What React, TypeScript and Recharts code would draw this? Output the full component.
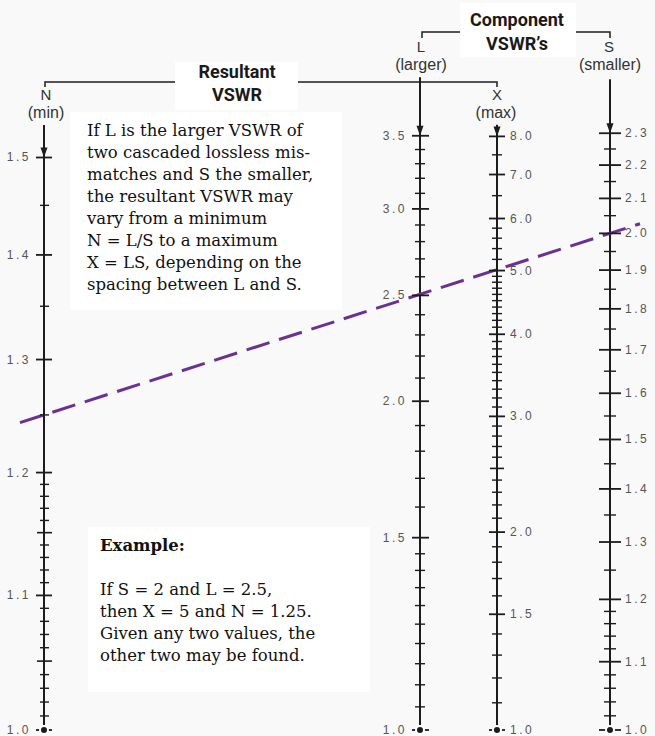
import React from "react";
import {
  ComposedChart,
  Line,
  Scatter,
  XAxis,
  YAxis,
  ReferenceLine,
} from "recharts";

const WIDTH = 655;
const HEIGHT = 736;

// value sitting on the top edge of the plot for each scale (1.0 is on the bottom edge)
const N_TOP = 1.677;
const L_TOP = 4.66;
const X_TOP = 12.9;
const S_TOP = 2.77;

// horizontal position of the four scales
const N_AT = 44;
const L_AT = 420;
const X_AT = 497;
const S_AT = 610;

const nLabeled = [1.0, 1.1, 1.2, 1.3, 1.4, 1.5];
const nMid = [1.05, 1.15];
const nMinor = [
  1.01, 1.02, 1.03, 1.04, 1.06, 1.07, 1.08, 1.09, 1.11, 1.12, 1.13, 1.14,
  1.16, 1.17, 1.18, 1.19, 1.25, 1.35, 1.45,
];

const lLabeled = [1.0, 1.5, 2.0, 2.5, 3.0, 3.5];
const lMinor = [
  1.05, 1.1, 1.15, 1.2, 1.25, 1.3, 1.35, 1.4, 1.45, 1.6, 1.7, 1.8, 1.9, 2.1,
  2.2, 2.3, 2.4, 2.6, 2.7, 2.8, 2.9, 3.1, 3.2, 3.3, 3.4,
];

const xLabeled = [1.0, 1.5, 2.0, 3.0, 4.0, 5.0, 6.0, 7.0, 8.0];
const xMid = [2.5];
const xMinor = [
  1.1, 1.2, 1.3, 1.4, 1.6, 1.7, 1.8, 1.9, 2.1, 2.2, 2.3, 2.4, 2.6, 2.7, 2.8,
  2.9, 3.1, 3.2, 3.3, 3.4, 3.5, 3.6, 3.7, 3.8, 3.9, 4.1, 4.2, 4.3, 4.4, 4.5,
  4.6, 4.7, 4.8, 4.9, 5.2, 5.4, 5.6, 5.8, 6.5, 7.5,
];

const sLabeled = [
  1.0, 1.1, 1.2, 1.3, 1.4, 1.5, 1.6, 1.7, 1.8, 1.9, 2.0, 2.1, 2.2, 2.3,
];
const sMinor = [
  1.02, 1.04, 1.06, 1.08, 1.12, 1.14, 1.16, 1.18, 1.25, 1.35, 1.45, 1.55,
  1.65, 1.75, 1.85, 1.95, 2.05, 2.15, 2.25,
];

// where each scale line begins at the top (in its own units)
const nLineTop = 1.535;
const lLineTop = 3.96;
const xLineTop = 8.33;
const sLineTop = 2.48;

// worked example: S = 2, L = 2.5 -> X = 5, N = 1.25
const exampleN = 1.25;
const exampleS = 2.0;
const dashFrom = 20;
const dashTo = 640;

const introLines = [
  "If L is the larger VSWR of",
  "two cascaded lossless mis-",
  "matches and S the smaller,",
  "the resultant VSWR may",
  "vary from a minimum",
  "N = L/S to a maximum",
  "X = LS, depending on the",
  "spacing between L and S.",
];
const exampleLines = [
  "If S = 2 and L = 2.5,",
  "then X = 5 and N = 1.25.",
  "Given any two values, the",
  "other two may be found.",
];

const pts = (at: number, vals: number[]) => vals.map((v) => ({ x: at, v }));

// same height on the N scale for a value read on another scale
const asN = (v: number, top: number) =>
  Math.pow(10, (Math.log10(v) * Math.log10(N_TOP)) / Math.log10(top));

const h0 = Math.log10(exampleN);
const h1 = Math.log10(asN(exampleS, S_TOP));
const nAtX = (x: number) =>
  Math.pow(10, h0 + ((x - N_AT) / (S_AT - N_AT)) * (h1 - h0));

const INK = "#1c1c1c";
const labelFont = "'Liberation Sans', Arial, sans-serif";

const tick =
  (left: number, right: number, w: number, side?: "left" | "right", gap = 0) =>
  (p: any) => {
    const { cx, cy, payload } = p;
    return (
      <g>
        <line
          x1={cx - left}
          x2={cx + right}
          y1={cy}
          y2={cy}
          stroke={INK}
          strokeWidth={w}
        />
        {side && (
          <text
            x={side === "left" ? cx - gap : cx + gap}
            y={cy}
            textAnchor={side === "left" ? "end" : "start"}
            dominantBaseline="central"
            fontSize={12}
            letterSpacing={2.5}
            fill="#555"
            fontFamily={labelFont}
          >
            {payload.v.toFixed(1)}
          </text>
        )}
      </g>
    );
  };

const arrow = (p: any) => {
  const { cx, cy } = p;
  return (
    <path
      d={`M${cx - 3.5},${cy - 10} L${cx + 3.5},${cy - 10} L${cx},${cy} Z`}
      fill={INK}
    />
  );
};

const Overlay = () => (
  <svg
    width={WIDTH}
    height={HEIGHT}
    style={{ position: "absolute", left: 0, top: 0 }}
  >
    <rect x={70} y={112} width={272} height={198} fill="#fff" />
    <rect x={88} y={527} width={282} height={165} fill="#fff" />

    <path d="M45,87 V82 H497 V87" fill="none" stroke={INK} strokeWidth={1.5} />
    <path d="M422,38 V32 H610 V38" fill="none" stroke={INK} strokeWidth={1.5} />
    <rect x={175} y={62} width={123} height={48} fill="#fff" />
    <rect x={460} y={3} width={116} height={54} fill="#fff" />

    <g
      fontFamily="Roboto, sans-serif"
      fontWeight="bold"
      fontSize={18}
      fill="#1a1a1a"
      textAnchor="middle"
    >
      <text x={237} y={78}>Resultant</text>
      <text x={237} y={101}>VSWR</text>
      <text x={517} y={26}>Component</text>
      <text x={517} y={50}>VSWR’s</text>
    </g>

    <g fontFamily={labelFont} fill="#333" textAnchor="middle">
      <text x={46} y={100} fontSize={15}>N</text>
      <text x={46} y={118} fontSize={16}>(min)</text>
      <text x={421} y={52} fontSize={15}>L</text>
      <text x={421} y={70} fontSize={16}>(larger)</text>
      <text x={497} y={100} fontSize={15}>X</text>
      <text x={496} y={118} fontSize={16}>(max)</text>
      <text x={609} y={52} fontSize={15}>S</text>
      <text x={610} y={70} fontSize={16}>(smaller)</text>
    </g>

    <g fontFamily="'DejaVu Serif', serif" fontSize={16.5} fill="#111">
      {introLines.map((t, i) => (
        <text key={t} x={87} y={136 + i * 22}>
          {t}
        </text>
      ))}
      <text x={100} y={551} fontWeight="bold">
        Example:
      </text>
      {exampleLines.map((t, i) => (
        <text key={t} x={100} y={595 + i * 22}>
          {t}
        </text>
      ))}
    </g>
  </svg>
);

export default function App() {
  return (
    <div
      style={{
        position: "absolute",
        left: 0,
        top: 0,
        width: WIDTH,
        height: HEIGHT,
        background: "#f9f9f9",
      }}
    >
      <Overlay />
      <div style={{ position: "absolute", left: 0, top: 0 }}>
        <ComposedChart
          width={WIDTH}
          height={HEIGHT}
          margin={{ top: 0, right: 0, bottom: 6, left: 0 }}
        >
          <XAxis type="number" dataKey="x" domain={[0, WIDTH]} hide />
          <YAxis yAxisId="N" dataKey="v" type="number" scale="log" domain={[1, N_TOP]} hide />
          <YAxis yAxisId="L" dataKey="v" type="number" scale="log" domain={[1, L_TOP]} hide />
          <YAxis yAxisId="X" dataKey="v" type="number" scale="log" domain={[1, X_TOP]} hide />
          <YAxis yAxisId="S" dataKey="v" type="number" scale="log" domain={[1, S_TOP]} hide />

          <Line yAxisId="N" data={pts(N_AT, [1, nLineTop])} dataKey="v" stroke={INK} strokeWidth={2} dot={false} isAnimationActive={false} />
          <Line yAxisId="L" data={pts(L_AT, [1, lLineTop])} dataKey="v" stroke={INK} strokeWidth={2} dot={false} isAnimationActive={false} />
          <Line yAxisId="X" data={pts(X_AT, [1, xLineTop])} dataKey="v" stroke={INK} strokeWidth={2} dot={false} isAnimationActive={false} />
          <Line yAxisId="S" data={pts(S_AT, [1, sLineTop])} dataKey="v" stroke={INK} strokeWidth={2} dot={false} isAnimationActive={false} />

          <Scatter yAxisId="N" data={pts(N_AT, nMinor)} shape={tick(4, 5, 1.4)} isAnimationActive={false} />
          <Scatter yAxisId="N" data={pts(N_AT, nMid)} shape={tick(7, 8, 1.6)} isAnimationActive={false} />
          <Scatter yAxisId="N" data={pts(N_AT, nLabeled)} shape={tick(8, 8, 1.8, "left", 13)} isAnimationActive={false} />
          <Scatter yAxisId="N" data={pts(N_AT, [1.5])} shape={arrow} isAnimationActive={false} />

          <Scatter yAxisId="L" data={pts(L_AT, lMinor)} shape={tick(5, 5, 1.4)} isAnimationActive={false} />
          <Scatter yAxisId="L" data={pts(L_AT, lLabeled)} shape={tick(8, 9, 1.8, "left", 13)} isAnimationActive={false} />
          <Scatter yAxisId="L" data={pts(L_AT, [3.5])} shape={arrow} isAnimationActive={false} />

          <Scatter yAxisId="X" data={pts(X_AT, xMinor)} shape={tick(5, 5, 1.4)} isAnimationActive={false} />
          <Scatter yAxisId="X" data={pts(X_AT, xMid)} shape={tick(7, 7, 1.6)} isAnimationActive={false} />
          <Scatter yAxisId="X" data={pts(X_AT, xLabeled)} shape={tick(8, 8, 1.8, "right", 13)} isAnimationActive={false} />
          <Scatter yAxisId="X" data={pts(X_AT, [8.0])} shape={arrow} isAnimationActive={false} />

          <Scatter yAxisId="S" data={pts(S_AT, sMinor)} shape={tick(6, 6, 1.4)} isAnimationActive={false} />
          <Scatter yAxisId="S" data={pts(S_AT, sLabeled)} shape={tick(11, 11, 1.8, "right", 15)} isAnimationActive={false} />
          <Scatter yAxisId="S" data={pts(S_AT, [2.3])} shape={arrow} isAnimationActive={false} />

          <ReferenceLine
            yAxisId="N"
            segment={[
              { x: dashFrom, y: nAtX(dashFrom) },
              { x: dashTo, y: nAtX(dashTo) },
            ]}
            stroke="#6b3094"
            strokeWidth={3}
            strokeDasharray="24 10"
            ifOverflow="visible"
          />
        </ComposedChart>
      </div>
    </div>
  );
}
